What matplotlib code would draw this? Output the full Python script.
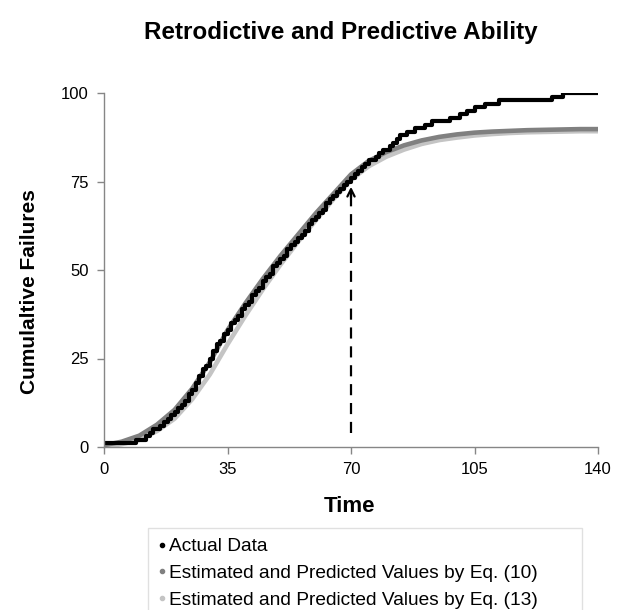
import numpy as np
import matplotlib
matplotlib.use('Agg')
import matplotlib.pyplot as plt
from matplotlib.lines import Line2D

plt.rcParams['font.family'] = ['Liberation Sans', 'DejaVu Sans']

# actual cumulative failures, read at each integer time 0..140
days = np.arange(0, 141)
actual = [1, 1, 1, 1, 1, 1, 1, 1, 1, 2,
          2, 2, 3, 4, 5, 5, 6, 7, 8, 9,
          10, 11, 12, 13, 15, 16, 18, 20, 22, 23,
          25, 27, 29, 30, 32, 33, 35, 36, 37, 39,
          40, 41, 43, 44, 45, 47, 48, 49, 51, 52,
          53, 54, 56, 57, 58, 59, 60, 61, 63, 64,
          65, 66, 67, 69, 70, 71, 72, 73, 74, 75,
          76, 77, 78, 79, 80, 81, 81, 82, 83, 84,
          84, 85, 86, 87, 88, 88, 89, 89, 90, 90,
          90, 91, 91, 92, 92, 92, 92, 92, 93, 93,
          93, 94, 94, 95, 95, 96, 96, 96, 97, 97,
          97, 97, 98, 98, 98, 98, 98, 98, 98, 98,
          98, 98, 98, 98, 98, 98, 98, 99, 99, 99,
          100, 100, 100, 100, 100, 100, 100, 100, 100, 100,
          100]

# fitted / predicted curves read every 5 time units
t_fit = np.arange(0, 145, 5)
eq10 = [0.5, 1.5, 3.2, 6.3, 10.5, 16.5, 24.0, 33.0, 40.5, 47.5,
        54.0, 60.0, 66.0, 71.5, 77.0, 80.8, 83.3, 85.2, 86.6, 87.6,
        88.3, 88.8, 89.1, 89.3, 89.5, 89.6, 89.7, 89.8, 89.8]
eq13 = [0.0, 0.8, 2.0, 4.5, 8.0, 13.5, 20.5, 29.0, 37.0, 44.5,
        51.5, 58.0, 64.0, 70.0, 75.5, 79.3, 82.0, 84.0, 85.6, 86.7,
        87.4, 88.0, 88.4, 88.7, 88.9, 89.0, 89.1, 89.2, 89.2]

split_time = 70
arrow_from, arrow_to = 4, 73.5

c_act = 'black'
c_10 = '#808080'
c_13 = '#c4c4c4'

fig = plt.figure(figsize=(6.28, 6.10), dpi=100)
ax = fig.add_axes([104/628, 1-447/610, 494/628, 354/610])

ax.plot(t_fit, eq13, color=c_13, lw=3.3, solid_capstyle='butt')
ax.plot(t_fit, eq10, color=c_10, lw=3.3, solid_capstyle='butt')
ax.plot(days, actual, color=c_act, lw=3.0, drawstyle='steps-post')

# dashed line marking the end of the fitting period
ax.plot([split_time, split_time], [arrow_from, arrow_to - 1], color='black',
        lw=1.6, dashes=(5, 3.5))
ax.annotate('', xy=(split_time, arrow_to), xytext=(split_time, arrow_to - 3),
            arrowprops=dict(arrowstyle='->', color='black', lw=1.6,
                            mutation_scale=13, shrinkA=0, shrinkB=0))

ax.set_xlim(0, 140)
ax.set_ylim(0, 100)
ax.set_xticks([0, 35, 70, 105, 140])
ax.set_yticks([0, 25, 50, 75, 100])
for s in ['top', 'right']:
    ax.spines[s].set_visible(False)
for s in ['left', 'bottom']:
    ax.spines[s].set_color('#868686')
    ax.spines[s].set_linewidth(1.0)
ax.tick_params(direction='out', length=5, width=1, color='#868686',
               labelsize=12, pad=6)
ax.set_xlabel('Time', fontsize=16, fontweight='bold')
ax.set_ylabel('Cumulaltive Failures', fontsize=15, fontweight='bold')
ax.xaxis.set_label_coords(0.497, -0.138)
ax.yaxis.set_label_coords(-0.132, 0.44)

fig.text(341/628, 1-32/610, 'Retrodictive and Predictive Ability',
         ha='center', va='center', fontsize=17.5, fontweight='bold')

handles = [Line2D([], [], ls='none', marker='o', ms=3, color=c) for c in (c_act, c_10, c_13)]
labels = ['Actual Data',
          'Estimated and Predicted Values by Eq. (10)',
          'Estimated and Predicted Values by Eq. (13)']
leg = fig.legend(handles, labels, loc='upper left',
                 bbox_to_anchor=(148/628, 1-528/610 - 0.2, 434/628, 0.2),
                 mode='expand', borderaxespad=0, fontsize=13.8, frameon=True,
                 fancybox=False, edgecolor='#d9d9d9', handlelength=0.45,
                 handletextpad=0.1, labelspacing=0.48, borderpad=0.52)
leg.get_frame().set_linewidth(1.0)

plt.savefig('out.png')
